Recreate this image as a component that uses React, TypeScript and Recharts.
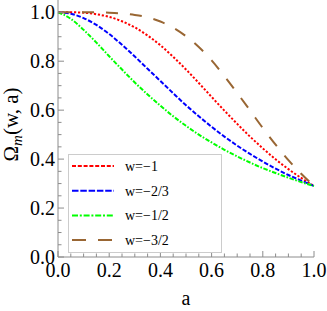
import { LineChart, Line, XAxis, YAxis, Legend, Label } from 'recharts'

// scale factor a
const A_VALUES = [
  0, 0.05, 0.1, 0.15, 0.2, 0.25, 0.3, 0.35, 0.4, 0.45, 0.5,
  0.55, 0.6, 0.65, 0.7, 0.75, 0.8, 0.85, 0.9, 0.95, 1,
]

// Omega_m, one list per w
const OMEGA_W_M1 = [
  1, 1.0, 0.998, 0.992, 0.981, 0.963, 0.938, 0.905, 0.865, 0.818, 0.766,
  0.711, 0.654, 0.598, 0.544, 0.492, 0.444, 0.399, 0.359, 0.323, 0.29,
]
const OMEGA_W_M23 = [
  1, 0.994, 0.976, 0.948, 0.911, 0.867, 0.819, 0.769, 0.719, 0.669, 0.62,
  0.575, 0.532, 0.492, 0.455, 0.421, 0.39, 0.361, 0.335, 0.312, 0.29,
]
const OMEGA_W_M12 = [
  1, 0.973, 0.928, 0.876, 0.82, 0.766, 0.713, 0.664, 0.618, 0.575, 0.536,
  0.5, 0.468, 0.438, 0.411, 0.386, 0.363, 0.343, 0.324, 0.306, 0.29,
]
const OMEGA_W_M32 = [
  1, 1.0, 1.0, 0.9995, 0.998, 0.995, 0.989, 0.979, 0.962, 0.937, 0.902,
  0.858, 0.803, 0.739, 0.67, 0.599, 0.527, 0.459, 0.396, 0.34, 0.29,
]

const SERIES_KEYS = ['wm1', 'wm23', 'wm12', 'wm32']
const SERIES_LABELS = ['w=\u22121', 'w=\u22122/3', 'w=\u22121/2', 'w=\u22123/2']

const X_TICKS = [
  0, 0.05, 0.1, 0.15, 0.2, 0.25, 0.3, 0.35, 0.4, 0.45, 0.5,
  0.55, 0.6, 0.65, 0.7, 0.75, 0.8, 0.85, 0.9, 0.95, 1,
]
const Y_TICKS = X_TICKS

const STYLE: Record<string, { color: string; dash: string; legendDash: string }> = {
  wm1: { color: '#ff0000', dash: '2.2 1.8', legendDash: '4 1.8' },
  wm23: { color: '#0000ff', dash: '4.5 1.8', legendDash: '6.5 1.8' },
  wm12: { color: '#00ff00', dash: '4.5 1.6 1.6 1.6', legendDash: '6 1.8 2 1.8' },
  wm32: { color: '#996633', dash: '12 12', legendDash: '14 12' },
}

const FRAME = '#8c8c8c'
const SERIF = 'Liberation Serif, DejaVu Serif, serif'
const textStyle = { fontFamily: SERIF }

const rows = A_VALUES.map((a, i) => ({
  a,
  wm1: OMEGA_W_M1[i],
  wm23: OMEGA_W_M23[i],
  wm12: OMEGA_W_M12[i],
  wm32: OMEGA_W_M32[i],
}))

// inward frame ticks (major every 0.2, minor every 0.05) with labels on bottom/left
function FrameTick(props: any) {
  const { x, y, payload, side } = props
  const v = payload.value
  const major = Math.abs(v * 5 - Math.round(v * 5)) < 1e-6
  const len = major ? 6 : 3.5
  let line
  if (side === 'bottom') line = <line x1={x} y1={y} x2={x} y2={y - len} />
  else if (side === 'top') line = <line x1={x} y1={y} x2={x} y2={y + len} />
  else if (side === 'left') line = <line x1={x} y1={y} x2={x + len} y2={y} />
  else line = <line x1={x} y1={y} x2={x - len} y2={y} />

  return (
    <g>
      <g stroke={FRAME} strokeWidth={1}>{line}</g>
      {major && side === 'bottom' && (
        <text x={x} y={y + 19.5} textAnchor="middle" fontSize={20} style={textStyle} fill="#000">
          {v.toFixed(1)}
        </text>
      )}
      {major && side === 'left' && (
        <text x={x - 3} y={y + 6.8} textAnchor="end" fontSize={20} style={textStyle} fill="#000">
          {v.toFixed(1)}
        </text>
      )}
    </g>
  )
}

function LegendBox() {
  return (
    <svg width={154} height={99} style={{ display: 'block' }}>
      <rect x={0.5} y={0.5} width={153} height={98} fill="#fff" stroke="#cccccc" />
      {SERIES_KEYS.map((k, i) => {
        const cy = 12 + i * 24.7
        return (
          <g key={k}>
            <line
              x1={4}
              x2={46}
              y1={cy}
              y2={cy}
              stroke={STYLE[k].color}
              strokeWidth={2}
              strokeDasharray={STYLE[k].legendDash}
            />
            <text x={57} y={cy + 5} fontSize={14} style={textStyle} fill="#000">
              {SERIES_LABELS[i]}
            </text>
          </g>
        )
      })}
    </svg>
  )
}

export default function App() {
  return (
    <div style={{ position: 'absolute', left: 0, top: 0 }}>
      <LineChart width={327} height={311} data={rows} margin={{ top: 0, right: 13, bottom: 0, left: 0 }}>
        <XAxis
          xAxisId="b"
          type="number"
          dataKey="a"
          domain={[0, 1]}
          ticks={X_TICKS}
          interval={0}
          height={54}
          tickSize={0}
          tickMargin={0}
          tickLine={false}
          axisLine={{ stroke: FRAME }}
          tick={(p: any) => <FrameTick {...p} side="bottom" />}
        >
          <Label
            content={({ viewBox }: any) => (
              <text
                x={viewBox.x + viewBox.width / 2}
                y={viewBox.y + 48}
                textAnchor="middle"
                fontSize={20}
                style={textStyle}
                fill="#000"
              >
                a
              </text>
            )}
          />
        </XAxis>
        <XAxis
          xAxisId="t"
          orientation="top"
          type="number"
          dataKey="a"
          domain={[0, 1]}
          ticks={X_TICKS}
          interval={0}
          height={0}
          tickSize={0}
          tickMargin={0}
          tickLine={false}
          axisLine={{ stroke: FRAME }}
          tick={(p: any) => <FrameTick {...p} side="top" />}
        />
        <YAxis
          yAxisId="l"
          type="number"
          domain={[0, 1.05]}
          ticks={Y_TICKS}
          interval={0}
          width={58}
          tickSize={0}
          tickMargin={0}
          tickLine={false}
          axisLine={{ stroke: FRAME }}
          tick={(p: any) => <FrameTick {...p} side="left" />}
        >
          <Label
            content={({ viewBox }: any) => (
              <text
                transform={`translate(17.5, ${viewBox.y + viewBox.height / 2 - 4}) rotate(-90)`}
                textAnchor="middle"
                fontSize={21}
                style={textStyle}
                fill="#000"
              >
                {'\u03a9'}
                <tspan fontStyle="italic" fontSize={15} dy={4}>m</tspan>
                <tspan dy={-4}>(w, a)</tspan>
              </text>
            )}
          />
        </YAxis>
        <YAxis
          yAxisId="r"
          orientation="right"
          type="number"
          domain={[0, 1.05]}
          ticks={Y_TICKS}
          interval={0}
          width={0}
          tickSize={0}
          tickMargin={0}
          tickLine={false}
          axisLine={{ stroke: FRAME }}
          tick={(p: any) => <FrameTick {...p} side="right" />}
        />
        <Legend
          layout="vertical"
          align="center"
          verticalAlign="middle"
          wrapperStyle={{ position: 'absolute', left: 68, top: 154, width: 154, height: 99 }}
          content={() => <LegendBox />}
        />
        {SERIES_KEYS.map((k, i) => (
          <Line
            key={k}
            xAxisId="b"
            yAxisId="l"
            type="monotone"
            dataKey={k}
            name={SERIES_LABELS[i]}
            stroke={STYLE[k].color}
            strokeWidth={2}
            strokeDasharray={STYLE[k].dash}
            dot={false}
            activeDot={false}
            isAnimationActive={false}
          />
        ))}
      </LineChart>
    </div>
  )
}
